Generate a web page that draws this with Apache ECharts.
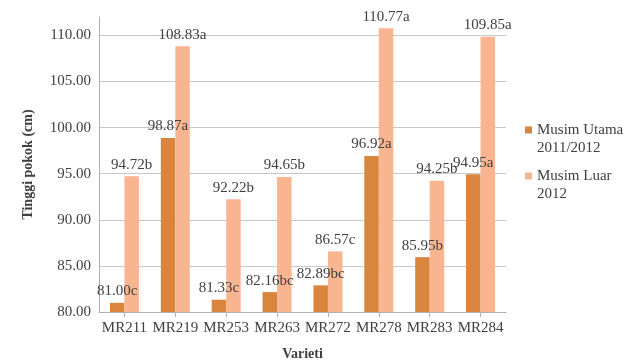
<!DOCTYPE html>
<html>
<head>
<meta charset="utf-8">
<script src="https://cdn.jsdelivr.net/npm/echarts@6/dist/echarts.min.js"></script>
<style>html,body{margin:0;padding:0;background:#fff}#c{width:627px;height:360px}</style>
</head>
<body>
<div id="c"></div>
<script>
var categories = ['MR211','MR219','MR253','MR263','MR272','MR278','MR283','MR284'];
var utama = [81.00, 98.87, 81.33, 82.16, 82.89, 96.92, 85.95, 94.95];
var utamaLetters = ['c','a','c','bc','bc','a','b','a'];
var luar = [94.72, 108.83, 92.22, 94.65, 86.57, 110.77, 94.25, 109.85];
var luarLetters = ['b','a','b','b','c','a','b','a'];
var seriesNames = ['Musim Utama\n2011/2012', 'Musim Luar\n2012'];

var font = 'serif';
var txt = '#404040';
var chart = echarts.init(document.getElementById('c'));
function lbl(letters){
  return {show:true, position:'top', distance:4, fontFamily:font, fontSize:15, color:txt,
    formatter:function(p){return p.value.toFixed(2)+letters[p.dataIndex];}};
}
chart.setOption({
  animation:false,
  textStyle:{fontFamily:font},
  grid:{left:99, right:121, top:17, bottom:48, outerBoundsMode:'none', containLabel:false},
  legend:{
    orient:'vertical', left:520, top:98, itemWidth:7, itemHeight:7, itemGap:-8,
    icon:'rect',
    formatter:function(n){return '\n'+n;},
    textStyle:{fontFamily:font, fontSize:15, color:txt, lineHeight:18},
    data:seriesNames
  },
  xAxis:{
    type:'category', data:categories,
    name:'Varieti', nameLocation:'middle', nameGap:35,
    nameTextStyle:{fontFamily:font, fontSize:14, fontWeight:'bold', color:txt},
    axisLine:{lineStyle:{color:'#b0b0b0'}},
    axisTick:{show:true, alignWithLabel:true, length:5, lineStyle:{color:'#b0b0b0'}},
    axisLabel:{fontFamily:font, fontSize:15, color:txt, margin:9, interval:0}
  },
  yAxis:{
    type:'value', min:80, max:112, interval:5,
    name:'Tinggi pokok (cm)', nameLocation:'middle', nameGap:64,
    nameTextStyle:{fontFamily:font, fontSize:14, fontWeight:'bold', color:txt},
    axisLine:{show:true, lineStyle:{color:'#b0b0b0'}},
    axisTick:{show:false},
    axisLabel:{fontFamily:font, fontSize:15, color:txt, margin:8, showMaxLabel:false,
      formatter:function(v){return v.toFixed(2);}},
    splitLine:{show:true, showMaxLine:false, lineStyle:{color:'#c8c8c8'}}
  },
  series:[
    {name:seriesNames[0], type:'bar', data:utama, barGap:'0%', barCategoryGap:'43%',
     itemStyle:{color:'#DA853E'}, label:lbl(utamaLetters)},
    {name:seriesNames[1], type:'bar', data:luar, barGap:'0%', barCategoryGap:'43%',
     itemStyle:{color:'#F9B590'}, label:lbl(luarLetters)}
  ]
});
</script>
</body>
</html>
